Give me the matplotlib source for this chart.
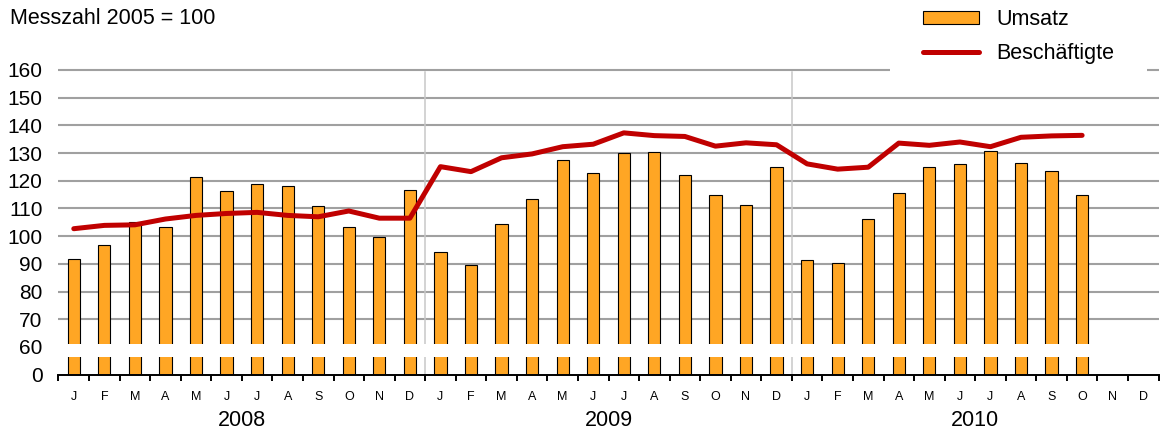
import matplotlib
matplotlib.use('Agg')
import matplotlib.pyplot as plt
import numpy as np
from matplotlib.patches import Rectangle

plt.rcParams['font.family'] = ['Liberation Sans', 'DejaVu Sans']

# Jan 2008 .. Oct 2010, Messzahl 2005 = 100
umsatz = [91.7, 96.7, 105.0, 103.2, 121.3, 116.2, 118.7, 118.0, 110.8, 103.2, 99.7, 116.6,
          94.2, 89.5, 104.3, 113.3, 127.4, 122.7, 130.1, 130.5, 122.0, 115.0, 111.3, 125.1,
          91.3, 90.4, 106.2, 115.6, 125.0, 126.0, 130.6, 126.3, 123.4, 114.8]
beschaeftigte = [102.7, 103.9, 104.1, 106.2, 107.5, 108.2, 108.6, 107.5, 107.0, 109.1, 106.5, 106.5,
                 125.1, 123.3, 128.3, 129.7, 132.3, 133.2, 137.3, 136.3, 136.0, 132.5, 133.7, 133.0,
                 126.1, 124.2, 124.9, 133.6, 132.8, 134.0, 132.3, 135.7, 136.2, 136.4]
month_labels = ['J', 'F', 'M', 'A', 'M', 'J', 'J', 'A', 'S', 'O', 'N', 'D'] * 3
years = ['2008', '2009', '2010']
ytick_values = [50, 60, 70, 80, 90, 100, 110, 120, 130, 140, 150, 160]
ytick_labels = ['0', '60', '70', '80', '90', '100', '110', '120', '130', '140', '150', '160']

orange = '#FFA624'
red = '#C00000'
W, H = 1160, 429

fig = plt.figure(figsize=(11.6, 4.29), dpi=100)
ax = fig.add_axes([58.5 / W, (H - 374.7) / H, 1100 / W, 307.5 / H])

base = 50  # axis break: "0" sits where 50 would be
xc = np.arange(len(umsatz)) + 0.5
bars = ax.bar(xc, np.array(umsatz) - base, bottom=base, width=0.4, color=orange,
              edgecolor='black', linewidth=0.8, zorder=3, label='Umsatz')
line, = ax.plot(xc, beschaeftigte, color=red, lw=3.6, zorder=4,
                solid_capstyle='round', label='Beschäftigte')

for v in ytick_values[1:]:
    ax.axhline(v, color='#a0a0a0', lw=1.5, zorder=1)
for xv in [12, 24]:
    ax.plot([xv, xv], [base, 159.2], color='#c8c8c8', lw=1.1, zorder=2)

# white gap marking the axis break
ax.axhspan(56.4, 61.1, color='white', lw=0, zorder=5)

ax.set_xlim(0, 36)
ax.set_ylim(base, 161)
ax.set_yticks(ytick_values)
ax.set_yticklabels(ytick_labels, fontsize=15)
ax.tick_params(axis='y', length=0, pad=11.5)

ax.set_xticks(np.arange(0, 37))
ax.set_xticklabels([])
ax.set_xticks(xc.tolist() + [34.5, 35.5], minor=True)
ax.set_xticklabels(month_labels, minor=True, fontsize=9)
ax.tick_params(axis='x', which='major', direction='out', length=4, width=1.4, color='black')
ax.tick_params(axis='x', which='minor', length=0, pad=12)

for s in ['top', 'right', 'left']:
    ax.spines[s].set_visible(False)
ax.spines['bottom'].set_linewidth(1.4)
ax.spines['bottom'].set_zorder(6)

for i, yr in enumerate(years):
    ax.annotate(yr, xy=(i * 12 + 6, 0), xycoords=('data', 'axes fraction'),
                xytext=(0, -46), textcoords='offset pixels',
                ha='center', va='center', fontsize=15.5)

fig.text(10 / W, 1 - 19 / H, 'Messzahl 2005 = 100', fontsize=15.5, va='center', ha='left')

fig.patches.append(Rectangle((890 / W, 1 - 72 / H), 257 / W, 72 / H, transform=fig.transFigure,
                             facecolor='white', edgecolor='none', zorder=4))
leg = fig.legend(handles=[bars, line], loc='upper left', bbox_to_anchor=(923 / W, 1 - 9 / H),
                 frameon=False, fontsize=15.5, borderpad=0, handlelength=2.6, handleheight=0.6,
                 handletextpad=0.8, labelspacing=0.6, borderaxespad=0)
leg.set_zorder(6)

fig.savefig('out.png', dpi=100)
